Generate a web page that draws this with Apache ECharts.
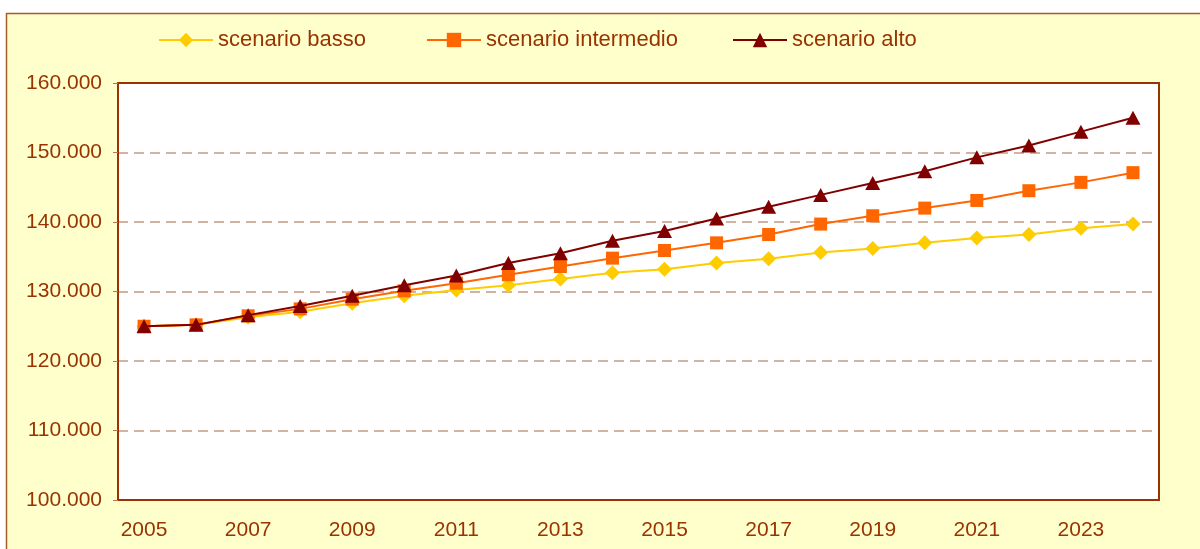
<!DOCTYPE html>
<html>
<head>
<meta charset="utf-8">
<script src="https://cdn.jsdelivr.net/npm/echarts@6/dist/echarts.min.js"></script>
<style>
  html, body { margin: 0; padding: 0; background: #fff; }
  #chart { width: 1200px; height: 549px; }
</style>
</head>
<body>
<div id="chart"></div>
<script>
// anni e scenari
var anni = ["2005", "2006", "2007", "2008", "2009", "2010", "2011", "2012", "2013", "2014",
  "2015", "2016", "2017", "2018", "2019", "2020", "2021", "2022", "2023", "2024"];

var basso = [125000, 125200, 126300, 127100, 128300, 129400, 130200, 130900, 131800, 132700,
  133200, 134100, 134700, 135600, 136200, 137000, 137700, 138200, 139100, 139700];

var intermedio = [125000, 125200, 126500, 127500, 128900, 130100, 131200, 132400, 133600, 134800,
  135900, 137000, 138200, 139700, 140900, 142000, 143100, 144500, 145700, 147100];

var alto = [125000, 125200, 126600, 127900, 129400, 130900, 132300, 134100, 135500, 137300,
  138700, 140500, 142200, 143900, 145600, 147300, 149300, 151000, 153000, 155000];

var yMin = 100000, yMax = 160000, yStep = 10000;

var brown = "#993300";
var font = "Liberation Sans, Arial, sans-serif";

// formato italiano: 160.000
function fmt(v) {
  return String(v).replace(/\B(?=(\d{3})+(?!\d))/g, ".");
}

var chart = echarts.init(document.getElementById("chart"));

function legendAt(name, left) {
  return {
    data: [name],
    left: left,
    top: 29,
    padding: 0,
    itemWidth: 54,
    itemHeight: 18,
    itemGap: 6,
    textStyle: { color: brown, fontSize: 22, fontFamily: font },
    selectedMode: false
  };
}

var option = {
  backgroundColor: "#fff",
  animation: false,
  graphic: [{
    type: "rect",
    z: -100,
    shape: { x: 6.5, y: 13.5, width: 1220, height: 560 },
    style: { fill: "#FFFFCC", stroke: "#A65A2E", lineWidth: 1.5 }
  }],
  legend: [
    legendAt("scenario basso", 158),
    legendAt("scenario intermedio", 426),
    legendAt("scenario alto", 732)
  ],
  grid: {
    left: 118, top: 83, right: 41, bottom: 49,
    show: true,
    backgroundColor: "#fff",
    borderWidth: 0
  },
  xAxis: [{
    type: "category",
    data: anni,
    boundaryGap: true,
    axisLine: { lineStyle: { color: brown, width: 2 } },
    axisTick: { interval: 0, length: 6, lineStyle: { color: "#C07050" } },
    axisLabel: { interval: 1, color: brown, fontSize: 21, fontFamily: font, margin: 20 }
  }, {
    // bordo superiore del riquadro
    type: "category",
    position: "top",
    data: anni,
    axisLine: { lineStyle: { color: brown, width: 2 } },
    axisTick: { show: false },
    axisLabel: { show: false },
    splitLine: { show: false }
  }],
  yAxis: [{
    type: "value",
    min: yMin,
    max: yMax,
    interval: yStep,
    axisLine: { show: true, lineStyle: { color: brown, width: 2 } },
    axisTick: { show: true, length: 5, lineStyle: { color: "#C07050" } },
    axisLabel: { color: brown, fontSize: 21, fontFamily: font, margin: 16, formatter: fmt },
    splitLine: { lineStyle: { color: "#C49A82", type: [10, 6], width: 1.5 } }
  }, {
    // bordo destro del riquadro
    type: "value",
    position: "right",
    min: yMin,
    max: yMax,
    interval: yStep,
    axisLine: { show: true, lineStyle: { color: brown, width: 2 } },
    axisTick: { show: false },
    axisLabel: { show: false },
    splitLine: { show: false }
  }],
  series: [
    {
      name: "scenario basso",
      type: "line",
      data: basso,
      symbol: "diamond",
      symbolSize: 15,
      lineStyle: { color: "#FFCC00", width: 2 },
      itemStyle: { color: "#FFCC00" },
      z: 3
    },
    {
      name: "scenario intermedio",
      type: "line",
      data: intermedio,
      symbol: "rect",
      symbolSize: 13,
      lineStyle: { color: "#FF6600", width: 2 },
      itemStyle: { color: "#FF6600" },
      z: 4
    },
    {
      name: "scenario alto",
      type: "line",
      data: alto,
      symbol: "triangle",
      symbolSize: [15, 14],
      lineStyle: { color: "#800000", width: 2 },
      itemStyle: { color: "#800000" },
      z: 5
    }
  ]
};

chart.setOption(option);
</script>
</body>
</html>
